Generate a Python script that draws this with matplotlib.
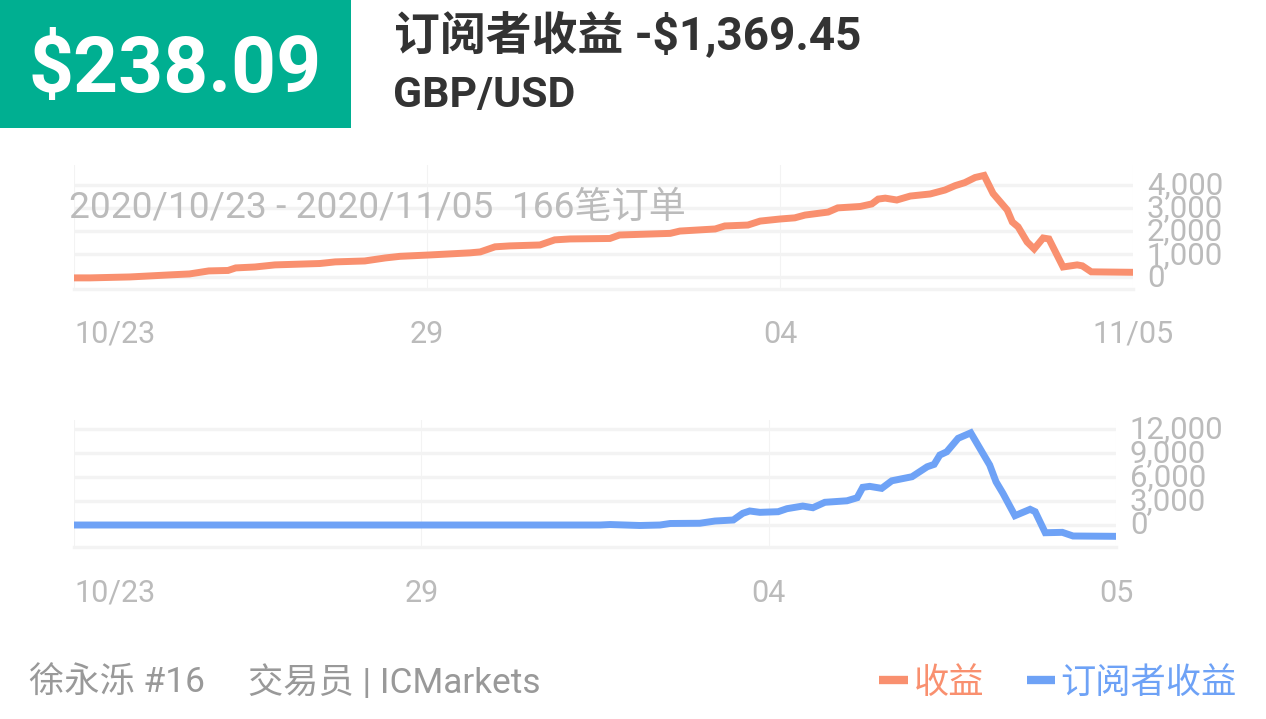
#!/usr/bin/env python3
"""订阅者收益图表"""

import matplotlib
matplotlib.use('Agg')
import matplotlib.pyplot as plt
from matplotlib.lines import Line2D
from matplotlib.patches import Rectangle
from matplotlib.transforms import ScaledTranslation

plt.rcParams['font.family'] = ['Roboto', 'Noto Sans CJK SC', 'DejaVu Sans']

W, H = 1266, 719
ORANGE = '#F9906F'
BLUE = '#6EA2F6'
GREEN = '#00AF91'
GRID = '#F3F3F3'
TICK = '#BBBBBB'

# 收益 (按订单序号)
profit_x = [0, 2.5, 8.7, 15, 18, 21, 24, 25.2, 28.2, 31.3, 38.3, 40.7, 45.3, 48.5,
            50.8, 55.5, 61.7, 63.3, 65.6, 67.9, 72.6, 74.9, 77.3, 83.5, 85, 92.9,
            94.4, 99.9, 101.4, 105, 106.9, 110, 112.3, 113.9, 117.5, 119, 122.5,
            124.3, 125.3, 126.4, 128.2, 130.3, 133.4, 135.7, 137.3, 138.8, 140.4,
            141.8, 143.2, 145.4, 146.2, 147.1, 148.5, 149.6, 151, 151.9, 154.1,
            156.3, 157.1, 158.5, 165]
profit_y = [-20, -20, 20, 110, 150, 280, 300, 410, 450, 540, 600, 670, 710, 840,
            910, 970, 1060, 1100, 1320, 1360, 1400, 1620, 1660, 1680, 1830, 1900,
            2000, 2090, 2220, 2260, 2430, 2520, 2570, 2690, 2820, 3000, 3060,
            3170, 3380, 3420, 3340, 3510, 3600, 3770, 3960, 4090, 4310,
            4400, 3620, 2910, 2390, 2180, 1530, 1230, 1700, 1660, 450,
            540, 500, 240, 220]

# 订阅者收益
sub_x = [0, 83.3, 84.9, 89.6, 92.8, 94.4, 99.1, 101.5, 104.4, 105.9, 107, 108.6,
         111.5, 112.9, 115.4, 117, 118.9, 122.4, 124, 124.9, 126, 127.9, 129.5,
         132.7, 135.1, 136.2, 137.1, 138.2, 140, 142, 145, 146, 147.1, 149,
         151.4, 152.2, 153.8, 156.5, 158.2, 165]
sub_y = [0, 0, 60, -60, 0, 190, 220, 500, 630, 1470, 1760, 1590,
         1670, 2050, 2380, 2170, 2850, 3040, 3420, 4730, 4850, 4600, 5550,
         6060, 7310, 7610, 8780, 9190, 10880, 11570, 7530, 5430, 3970, 1170,
         1970, 1670, -970, -920, -1380, -1420]

x_ticks = [0, 55, 110, 165]
top_xlabels = ['10/23', '29', '04', '11/05']
bottom_xlabels = ['10/23', '29', '04', '05']
top_yticks = [0, 1000, 2000, 3000, 4000]
bottom_yticks = [0, 3000, 6000, 9000, 12000]


def make_axes(fig, left, right, top, bottom):
    """按像素位置建坐标轴"""
    return fig.add_axes([left / W, 1 - bottom / H, (right - left) / W, (bottom - top) / H])


def draw_chart(fig, ax, x, y, color, ylim, yticks, xlabels, xpad, ypad, yshift):
    ax.plot(x, y, color=color, linewidth=5, solid_joinstyle='miter', zorder=3)
    ax.set_xlim(0, 165)
    ax.set_ylim(*ylim)
    ax.set_xticks(x_ticks)
    ax.set_xticklabels(xlabels)
    ax.set_yticks(yticks)
    ax.set_yticklabels([f'{v:,}' for v in yticks])
    ax.yaxis.tick_right()
    ax.tick_params(axis='x', length=0, pad=xpad, labelsize=22, labelcolor=TICK)
    ax.tick_params(axis='y', length=0, pad=ypad, labelsize=22.4, labelcolor=TICK)
    ax.xaxis.get_majorticklabels()[0].set_ha('left')
    # y 轴文字略微上移
    for label in ax.yaxis.get_majorticklabels():
        label.set_transform(label.get_transform() + ScaledTranslation(0, yshift / 72, fig.dpi_scale_trans))
    ax.grid(True, axis='y', color=GRID, linewidth=2.4)
    ax.grid(True, axis='x', color=GRID, linewidth=0.8)
    ax.set_axisbelow(True)
    for side in ['top', 'left', 'right']:
        ax.spines[side].set_visible(False)
    ax.spines['bottom'].set_color(GRID)
    ax.spines['bottom'].set_linewidth(2.4)


def main():
    fig = plt.figure(figsize=(W / 100, H / 100), dpi=100)

    ax1 = make_axes(fig, 74, 1133, 165, 289)
    draw_chart(fig, ax1, profit_x, profit_y, ORANGE, (-500, 4850), top_yticks, top_xlabels, 22, 10, 1.5)

    ax2 = make_axes(fig, 74, 1116, 420, 547)
    draw_chart(fig, ax2, sub_x, sub_y, BLUE, (-2760, 13180), bottom_yticks, bottom_xlabels, 23, 10, 2)

    # 文字层, 坐标用像素
    over = fig.add_axes([0, 0, 1, 1], facecolor='none')
    over.set_xlim(0, W)
    over.set_ylim(H, 0)
    over.axis('off')

    over.add_patch(Rectangle((0, 0), 351, 128, color=GREEN, linewidth=0))
    over.text(175, 71, '$238.09', color='white', fontsize=56.5, fontweight='bold',
              ha='center', va='center', parse_math=False)
    over.text(394, 35, '订阅者收益 -$1,369.45', color='#333333', fontsize=33, fontweight='bold',
              ha='left', va='center', parse_math=False)
    over.text(393, 96, 'GBP/USD', color='#333333', fontsize=30.8, fontweight='bold',
              ha='left', va='center', parse_math=False)
    over.text(69, 208, '2020/10/23 - 2020/11/05  166笔订单', color=TICK, fontsize=26.7,
              ha='left', va='center', zorder=5)
    over.text(29, 683, '徐永泺 #16', color='#999999', fontsize=25.4, ha='left', va='center')
    over.text(248, 683, '交易员 | ICMarkets', color='#999999', fontsize=25.4, ha='left', va='center')

    handles = [Line2D([], [], color=ORANGE, linewidth=6, solid_capstyle='butt'),
               Line2D([], [], color=BLUE, linewidth=6, solid_capstyle='butt')]
    fig.legend(handles, ['收益', '订阅者收益'], loc='center right', ncols=2, frameon=False,
               bbox_to_anchor=(1237 / W, 1 - 683 / H), fontsize=25.4, labelcolor='linecolor',
               handlelength=0.82, handletextpad=0.15, columnspacing=1.2,
               borderpad=0, borderaxespad=0)

    fig.savefig('out.png', dpi=100)
    plt.close(fig)


if __name__ == '__main__':
    main()
